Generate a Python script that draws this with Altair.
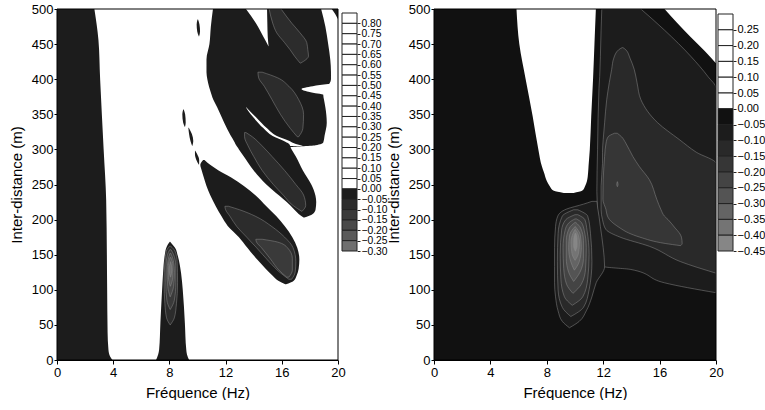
import altair as alt
import pandas as pd

FONT = "Liberation Sans"

# ---------------- axes / legends ----------------
x_ticks = [0, 4, 8, 12, 16, 20]
y_ticks = [0, 50, 100, 150, 200, 250, 300, 350, 400, 450, 500]

left_bounds = [0.85, 0.80, 0.75, 0.70, 0.65, 0.60, 0.55, 0.50, 0.45, 0.40, 0.35, 0.30,
               0.25, 0.20, 0.15, 0.10, 0.05, 0.00, -0.05, -0.10, -0.15, -0.20, -0.25, -0.30]
left_box_colors = ["#ffffff"] * 17 + ["#1c1c1c", "#2c2c2c", "#3a3a3a", "#494949", "#5a5a5a", "#6f6f6f"]
right_bounds = [0.30, 0.25, 0.20, 0.15, 0.10, 0.05, 0.00, -0.05, -0.10, -0.15, -0.20,
                -0.25, -0.30, -0.35, -0.40, -0.45]
right_box_colors = ["#ffffff"] * 6 + ["#111111", "#1c1c1c", "#292929", "#363636", "#444444",
                                      "#545454", "#646464", "#747474", "#868686"]

left_level_colors = {"W": "#ffffff", "0": "#1c1c1c", "1": "#2c2c2c", "2": "#3a3a3a",
                     "3": "#494949", "4": "#5a5a5a", "5": "#6f6f6f"}
right_level_colors = {"W": "#ffffff", "0": "#111111", "1": "#1c1c1c", "2": "#292929",
                      "3": "#363636", "4": "#444444", "5": "#545454", "6": "#646464",
                      "7": "#747474", "8": "#868686"}

# ---------------- left panel regions: rows of (distance m, freq left, freq right) ----------------
L_strip = [(0, 0, 3.95), (5, 0, 3.78), (15, 0, 3.66), (40, 0, 3.6), (100, 0, 3.57), (228, 0, 3.5),
           (300, 0, 3.32), (400, 0, 3.07), (456, 0, 2.95), (500, 0, 2.66)]
L_bump = [(0, 7.05, 9.4), (8, 7.2, 9.25), (15, 7.27, 9.2), (53, 7.36, 9.1), (100, 7.48, 8.95),
          (124, 7.55, 8.83), (148, 7.66, 8.6), (160, 7.78, 8.4), (165, 7.9, 8.2), (168.5, 8.03, 8.05)]
L_bump1 = [(50, 8.05, 8.06), (60, 7.8, 8.35), (80, 7.68, 8.5), (110, 7.62, 8.58), (140, 7.68, 8.55),
           (155, 7.78, 8.4), (162, 8.0, 8.1)]
L_bump2 = [(72, 8.05, 8.06), (85, 7.82, 8.35), (110, 7.74, 8.46), (135, 7.76, 8.45), (150, 7.86, 8.3),
           (157, 8.02, 8.12)]
L_bump3 = [(90, 8.05, 8.06), (105, 7.88, 8.3), (125, 7.84, 8.36), (142, 7.9, 8.28), (152, 8.04, 8.1)]
L_bump4 = [(105, 8.06, 8.07), (118, 7.93, 8.24), (135, 7.93, 8.25), (146, 8.05, 8.1)]
L_bump5 = [(118, 8.07, 8.08), (128, 7.98, 8.18), (140, 8.07, 8.09)]
L_dot1 = [(332, 9.1, 9.11), (338, 8.98, 9.16), (350, 8.92, 9.12), (357, 8.98, 9.02)]
L_dot2 = [(305, 9.62, 9.63), (312, 9.5, 9.7), (322, 9.4, 9.6), (331, 9.35, 9.38)]
L_dot3 = [(278, 10.1, 10.11), (285, 9.92, 10.12), (293, 9.82, 9.98), (298, 9.82, 9.84)]
L_dot4 = [(461, 10.1, 10.11), (468, 9.98, 10.18), (478, 9.94, 10.14), (485, 10.0, 10.04)]
L_fing3 = [(108, 16.25, 16.3), (113, 15.75, 16.85), (120, 15.35, 17.05), (130, 14.85, 17.2),
           (143, 14.25, 17.25), (160, 13.55, 17.1), (175, 12.95, 16.75), (191, 12.15, 16.2),
           (205, 11.7, 15.6), (219, 11.3, 14.9), (235, 10.9, 14.1), (248, 10.64, 13.3), (260, 10.45, 12.4),
           (270, 10.3, 11.5), (278, 10.2, 10.9), (285, 10.4, 10.5)]
L_fing2 = [(203, 17.55, 17.6), (208, 17.2, 18.2), (214, 16.9, 18.4), (225, 16.35, 18.45), (243, 15.3, 18.26),
           (250, 14.9, 18.1), (270, 14.0, 17.5), (290, 13.3, 17.0), (300, 12.95, 16.7), (303, 12.85, 16.62),
           (306, 12.75, 18.4), (310, 12.65, 18.95), (320, 12.35, 19.05), (338, 11.9, 19.2), (360, 11.4, 19.1),
           (371, 11.12, 19.0), (378, 11.0, 18.95), (400, 10.7, 19.5), (410, 10.64, 19.5), (428, 10.64, 19.45),
           (450, 10.85, 19.3), (475, 10.95, 19.1), (500, 11.1, 18.8)]
L_corner = [(486, 19.98, 20), (493, 19.8, 20), (500, 19.55, 20)]
L_notch = [(447, 15.05, 15.06), (460, 14.7, 15.0), (480, 14.15, 14.97), (500, 13.45, 14.95)]
L_channel = [(305, 16.6, 17.5), (308, 16.5, 16.95), (312, 16.15, 16.55), (319, 15.35, 15.65),
             (330, 14.7, 14.95), (345, 14.0, 14.2), (355, 13.6, 13.7), (360, 13.45, 13.47)]
L_hook = [(378, 19.0, 19.6), (382, 17.9, 19.6), (386, 17.4, 19.6), (390, 18.2, 19.6), (393, 19.3, 19.6)]
L_lobeA = [(423, 17.3, 17.35), (433, 16.9, 17.9), (442, 16.59, 17.85), (452, 16.2, 17.78), (466, 15.64, 17.3),
           (480, 15.35, 16.7), (500, 15.1, 15.95)]
L_lobeB = [(318, 17.1, 17.2), (330, 16.6, 17.5), (350, 15.9, 17.55), (371, 15.3, 17.2), (390, 14.75, 16.5),
           (402, 14.35, 15.7), (410, 14.3, 14.6)]
L_lobeC = [(212, 17.4, 17.45), (220, 16.8, 17.7), (235, 16.1, 17.55), (250, 15.4, 17.0), (270, 14.6, 16.2),
           (290, 14.0, 15.3), (305, 13.6, 14.6), (318, 13.35, 13.9), (324, 13.35, 13.45)]
L_lobeD = [(115, 16.5, 16.7), (125, 15.85, 16.95), (140, 15.1, 17.0), (160, 14.2, 16.8), (175, 13.5, 16.2),
           (190, 12.8, 15.3), (205, 12.3, 14.1), (214, 12.0, 13.0), (219, 11.95, 12.2)]
L_lobeD2 = [(118, 16.35, 16.5), (128, 15.8, 16.75), (145, 15.15, 16.75), (160, 14.55, 16.4),
            (168, 14.2, 15.7), (172, 14.15, 14.6)]

left_regions = [
    ("0", L_strip), ("0", L_bump), ("0", L_dot1), ("0", L_dot2), ("0", L_dot3), ("0", L_dot4),
    ("0", L_fing3), ("0", L_fing2), ("0", L_corner),
    ("W", L_notch), ("W", L_channel), ("W", L_hook),
    ("1", L_bump1), ("1", L_lobeA), ("1", L_lobeB), ("1", L_lobeC), ("1", L_lobeD),
    ("2", L_bump2), ("2", L_lobeD2), ("3", L_bump3), ("4", L_bump4), ("5", L_bump5),
]

# ---------------- right panel regions ----------------
R_white1 = [(238, 9.2, 9.9), (241, 8.5, 10.5), (248, 8.2, 10.72), (255, 8.0, 10.85), (267, 7.8, 10.93),
            (276, 7.65, 10.96), (300, 7.4, 11.05), (347, 7.0, 11.15), (400, 6.5, 11.28), (450, 6.05, 11.38),
            (500, 5.85, 11.48)]
R_white2 = [(423, 19.98, 20), (440, 19.2, 20), (460, 18.2, 20), (480, 17.25, 20), (500, 16.35, 20)]
R_lev1a = [(96, 19.95, 20), (110, 16.34, 20), (129, 13.96, 20), (133, 12.07, 20), (150, 11.9, 20),
           (200, 11.65, 20), (240, 11.55, 20), (300, 11.6, 20), (387, 11.7, 20), (404, 11.75, 19.42),
           (432, 11.8, 18.24), (470, 11.85, 16.34), (500, 11.9, 14.67)]
R_lev1b = [(46, 9.6, 9.61), (55, 9.1, 10.3), (70, 8.8, 10.8), (90, 8.62, 11.2), (110, 8.55, 11.5),
           (133, 8.55, 12.1), (160, 8.55, 12.0), (190, 8.62, 11.8), (205, 8.78, 11.7), (215, 9.4, 11.62),
           (222, 10.6, 11.58), (226, 11.2, 11.55)]
R_lev2 = [(124, 19.95, 20), (140, 17.5, 20), (162, 15.27, 20), (175, 13.2, 20), (186, 12.19, 20),
          (200, 11.95, 20), (214, 11.85, 20), (248, 11.85, 20), (280, 11.95, 20), (296, 11.95, 18.6),
          (314, 12.0, 17.4), (338, 12.1, 15.86), (371, 12.25, 14.67), (395, 12.43, 14.4), (414, 12.6, 14.2),
          (430, 12.75, 13.9), (442, 13.1, 13.6), (445, 13.35, 13.4)]
R_lev3 = [(163, 17.45, 17.5), (166, 16.4, 17.6), (175, 14.6, 17.55), (181, 13.8, 17.4), (188, 13.2, 17.1),
          (200, 12.45, 16.6), (205, 12.3, 16.34), (214, 12.2, 16.1), (229, 11.98, 15.8), (257, 12.0, 15.27),
          (276, 12.05, 14.55), (290, 12.1, 14.1), (309, 12.2, 13.6), (318, 12.35, 13.3), (323, 12.8, 13.0)]
R_ell2 = [(62, 9.7, 9.71), (75, 9.1, 10.6), (100, 8.8, 11.0), (140, 8.75, 11.2), (180, 8.8, 11.1),
          (205, 9.1, 10.9), (214, 9.9, 10.2)]
R_ell3 = [(78, 9.8, 9.81), (90, 9.25, 10.55), (115, 9.0, 10.9), (150, 8.95, 11.0), (185, 9.05, 10.85),
          (200, 9.35, 10.7), (207, 10.0, 10.2)]
R_ell4 = [(95, 9.85, 9.86), (108, 9.4, 10.45), (130, 9.2, 10.75), (160, 9.15, 10.8), (185, 9.3, 10.65),
          (196, 9.6, 10.45), (201, 10.0, 10.1)]
R_ell5 = [(112, 9.9, 9.91), (125, 9.55, 10.35), (145, 9.38, 10.6), (170, 9.38, 10.6), (188, 9.6, 10.4),
          (196, 10.0, 10.05)]
R_ell6 = [(128, 9.95, 9.96), (140, 9.7, 10.3), (160, 9.55, 10.45), (178, 9.62, 10.38), (190, 10.0, 10.02)]
R_ell7 = [(142, 10.0, 10.01), (152, 9.78, 10.25), (168, 9.72, 10.32), (180, 9.85, 10.2), (186, 10.0, 10.02)]
R_ell8 = [(155, 10.02, 10.03), (163, 9.9, 10.15), (174, 9.92, 10.14), (181, 10.03, 10.04)]
R_speck = [(247, 13.0, 13.01), (250, 12.96, 13.05), (254, 13.0, 13.01)]

right_regions = [
    ("W", R_white1), ("W", R_white2),
    ("1", R_lev1a), ("1", R_lev1b),
    ("2", R_lev2), ("2", R_ell2),
    ("3", R_lev3), ("3", R_ell3),
    ("4", R_ell4), ("5", R_ell5), ("6", R_ell6), ("7", R_ell7), ("8", R_ell8),
    ("4", R_speck),
]

PW_L, PW_R, PH = 281, 282, 351
LINE = "#8c8c8c"


def axis_x():
    return alt.Axis(values=x_ticks, title="Fréquence (Hz)", grid=False, labelFont=FONT,
                    labelFontSize=13, titleFont=FONT, titleFontSize=15, titleFontWeight="normal",
                    labelColor="black", titleColor="black", domainColor="black", tickColor="black",
                    tickSize=4, labelPadding=2, titlePadding=6, labelFlush=False)


def axis_y():
    return alt.Axis(values=y_ticks, title="Inter-distance (m)", grid=False, labelFont=FONT,
                    labelFontSize=13, titleFont=FONT, titleFontSize=15, titleFontWeight="normal",
                    labelColor="black", titleColor="black", domainColor="black", tickColor="black",
                    tickSize=3, labelPadding=1, titlePadding=7, labelFlush=False)


def panel(regions, bg, colors, width):
    xs = alt.Scale(domain=[0, 20], nice=False, zero=False)
    ys = alt.Scale(domain=[0, 500], nice=False, zero=False)
    frame = pd.DataFrame({"x0": [0], "x1": [20], "y0": [0], "y1": [500]})
    base = alt.Chart(frame).mark_rect(color=bg).encode(
        x=alt.X("x0:Q", scale=xs, axis=axis_x()), x2="x1:Q",
        y=alt.Y("y0:Q", scale=ys, axis=axis_y()), y2="y1:Q")
    layers = [base]
    for lev, pts in regions:
        df = pd.DataFrame(pts, columns=["dist", "fl", "fr"])
        opts = dict(orient="horizontal", interpolate="monotone", color=colors[lev], clip=True)
        if lev not in ("0", "W"):
            opts.update(stroke=LINE, strokeWidth=0.5)
        layers.append(
            alt.Chart(df).mark_area(**opts).encode(
                x=alt.X("fl:Q", scale=xs, axis=axis_x()), x2="fr:Q",
                y=alt.Y("dist:Q", scale=ys, axis=axis_y())))
    border = alt.Chart(frame).mark_rect(filled=False, stroke="black", strokeWidth=1).encode(
        x=alt.X("x0:Q", scale=xs, axis=axis_x()), x2="x1:Q",
        y=alt.Y("y0:Q", scale=ys, axis=axis_y()), y2="y1:Q")
    layers.append(border)
    return alt.layer(*layers).properties(width=width, height=PH)


def legend(bounds, colors, top_px, bottom_px, fsize, x_off):
    df = pd.DataFrame({"hi": bounds[:-1], "lo": bounds[1:], "c": colors})
    return alt.Chart(df).mark_rect(stroke="#222222", strokeWidth=1).encode(
        y=alt.Y("hi:Q", scale=alt.Scale(domain=[bounds[-1], bounds[0]], range=[bottom_px, top_px],
                                        nice=False, zero=False),
                axis=alt.Axis(orient="right", values=bounds[1:], format=".2f", title=None, grid=False,
                              domain=False, tickSize=3, tickColor="#222222", labelPadding=1,
                              labelFont=FONT, labelFontSize=fsize, labelColor="black",
                              labelOverlap=False, labelFlush=False)),
        y2="lo:Q",
        x=alt.value(x_off), x2=alt.value(x_off + 15),
        fill=alt.Fill("c:N", scale=None),
    ).properties(width=x_off + 15, height=PH, view=alt.ViewBackground(stroke=None))


spacer = alt.Chart(pd.DataFrame({"s": [0]})).mark_point(opacity=0).encode(
    x=alt.value(0), y=alt.value(0)
).properties(width=73, height=PH, view=alt.ViewBackground(stroke=None))

left = panel(left_regions, "#ffffff", left_level_colors, PW_L)
right = panel(right_regions, "#111111", right_level_colors, PW_R)
left_leg = legend(left_bounds, left_box_colors, 4, 242, 10.3, 2)
right_leg = legend(right_bounds, right_box_colors, 5, 242, 11, 0)

chart = alt.hconcat(
    left, left_leg, spacer, right, right_leg,
    spacing=2, bounds="flush",
).properties(
    padding={"left": 9, "top": 3, "right": 0, "bottom": 0},
    background="white",
).configure_view(stroke=None)

chart.save("out.html", embed_options={"renderer": "svg", "actions": False})
